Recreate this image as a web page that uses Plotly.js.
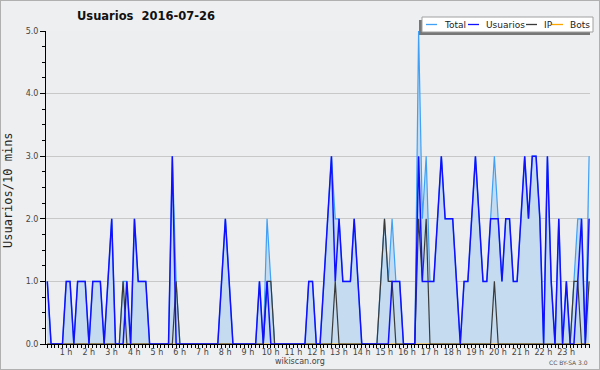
<!DOCTYPE html>
<html>
<head>
<meta charset="utf-8">
<script src="https://cdn.plot.ly/plotly-3.0.1.min.js"></script>
<style>
  html, body { margin: 0; padding: 0; background: #eeeff1; }
  #wrap { position: relative; width: 600px; height: 370px; }
  #chart { width: 600px; height: 370px; }
  #frame { position: absolute; left: 0; top: 0; width: 598px; height: 368px; border: 1px solid #b0b0b0; pointer-events: none; }
</style>
</head>
<body>
<div id="wrap"><div id="chart"></div><div id="frame"></div></div>
<script>
// 10-minute slots, 0 = 00:00 ... 143 = 23:50
const hourTickSlots = [6,12,18,24,30,36,42,48,54,60,66,72,78,84,90,96,102,108,114,120,126,132,138];
const hourTickLabels = ["1 h","2 h","3 h","4 h","5 h","6 h","7 h","8 h","9 h","10 h","11 h","12 h","13 h","14 h","15 h","16 h","17 h","18 h","19 h","20 h","21 h","22 h","23 h"];
const yTickVals = [0,1,2,3,4,5];
const yTickLabels = ["0.0","1.0","2.0","3.0","4.0","5.0"];

const usuarios = [
  1,0,0,0,0,1,1,0,1,1,1,0,
  1,1,1,0,1,2,0,0,0,1,0,2,
  1,1,1,0,0,0,0,0,0,3,0,0,
  0,0,0,0,0,0,0,0,0,0,1,2,
  1,0,0,0,0,0,0,0,1,0,1,0,
  0,0,0,0,0,0,0,0,0,1,1,0,
  0,1,2,3,1,2,1,1,1,2,1,0,
  0,0,0,0,0,0,0,1,1,1,0,0,
  0,0,3,1,1,1,1,2,3,2,2,2,
  1,0,1,1,2,3,2,1,1,2,2,2,
  1,2,2,1,1,2,3,2,3,3,2,0,
  3,1,0,2,0,1,0,0,1,2,0,2
];
const ip = [
  0,0,0,0,0,0,0,0,0,0,0,0,
  0,0,0,0,0,0,0,0,1,0,0,0,
  0,0,0,0,0,0,0,0,0,0,1,0,
  0,0,0,0,0,0,0,0,0,0,0,0,
  0,0,0,0,0,0,0,0,0,0,1,1,
  0,0,0,0,0,0,0,0,0,0,0,0,
  0,0,0,0,1,0,0,0,0,0,0,0,
  0,0,0,0,1,2,1,1,0,0,0,0,
  0,0,2,1,2,0,0,0,0,0,0,0,
  0,0,0,0,0,0,0,0,0,0,1,0,
  0,0,0,0,0,0,0,0,0,0,0,0,
  0,0,0,0,0,0,0,1,1,0,0,1
];
const total = [
  1,0,0,0,0,1,1,0,1,1,1,0,
  1,1,1,0,1,2,0,0,1,1,0,2,
  1,1,1,0,0,0,0,0,0,3,1,0,
  0,0,0,0,0,0,0,0,0,0,1,2,
  1,0,0,0,0,0,0,0,1,0,2,1,
  0,0,0,0,0,0,0,0,0,1,1,0,
  0,1,2,3,2,2,1,1,1,2,1,0,
  0,0,0,0,1,2,1,2,1,1,0,0,
  0,0,5,2,3,1,1,2,3,2,2,2,
  1,0,1,1,2,3,2,1,1,2,3,2,
  1,2,2,1,1,2,3,2,3,3,2,0,
  3,1,0,2,0,1,0,1,2,2,0,3
];
const bots = new Array(144).fill(0);
const slots = Array.from({length: 144}, (_, i) => i);

const traces = [
  {x: slots, y: total, type: 'scatter', mode: 'lines', name: 'Total',
   fill: 'tozeroy', fillcolor: '#c5dcf0', line: {color: '#3fa0f5', width: 1.2}},
  {x: slots, y: bots, type: 'scatter', mode: 'lines', name: 'Bots',
   line: {color: '#ffa500', width: 1}},
  {x: slots, y: ip, type: 'scatter', mode: 'lines', name: 'IP',
   line: {color: '#3a3a3a', width: 1.2}},
  {x: slots, y: usuarios, type: 'scatter', mode: 'lines', name: 'Usuarios',
   line: {color: '#1010ff', width: 1.5}}
];

// plot area in pixels: x 46..590, y 31..344
const L = 46, R = 590, T = 31, B = 344;
const px = v => (v - L) / (R - L);
const py = v => (B - v) / (B - T);
// slot 0 sits at x=47.3 px, slot 143 at x=589.1 px
const step = (589.1 - 47.3) / 143;
const xr0 = -(47.3 - L) / step, xr1 = 143 + (R - 589.1) / step;

const legendItems = [
  {name: 'Total', color: '#3fa0f5', x0: 426, tx: 442},
  {name: 'Usuarios', color: '#1010ff', x0: 468, tx: 484},
  {name: 'IP', color: '#3a3a3a', x0: 526, tx: 542},
  {name: 'Bots', color: '#ffa500', x0: 552, tx: 568}
];

const shapes = [
  {type: 'rect', xref: 'paper', yref: 'paper', x0: px(419), x1: px(590), y0: py(20), y1: py(35),
   fillcolor: '#777777', line: {width: 0}, layer: 'above'},
  {type: 'rect', xref: 'paper', yref: 'paper', x0: px(422), x1: px(593), y0: py(17), y1: py(32),
   fillcolor: '#ffffff', line: {color: '#a0a0a0', width: 1}, layer: 'above'}
];
const annotations = [
  {xref: 'paper', yref: 'paper', x: px(8), y: py(190), xanchor: 'center', yanchor: 'middle',
   text: 'Usuarios/10 mins', textangle: -90,
   showarrow: false, font: {family: 'DejaVu Sans Mono', size: 12, color: '#222'}},
  {xref: 'paper', yref: 'paper', x: px(300), y: py(361), xanchor: 'center', yanchor: 'middle',
   text: 'wikiscan.org', showarrow: false,
   font: {family: 'DejaVu Sans', size: 8, color: '#444'}},
  {xref: 'paper', yref: 'paper', x: px(590), y: py(362), xanchor: 'right', yanchor: 'middle',
   text: 'CC BY-SA 3.0', showarrow: false,
   font: {family: 'DejaVu Sans', size: 6, color: '#555'}}
];
legendItems.forEach(it => {
  shapes.push({type: 'line', xref: 'paper', yref: 'paper', x0: px(it.x0), x1: px(it.x0 + 11), y0: py(24.5), y1: py(24.5),
    line: {color: it.color, width: 1.3}, layer: 'above'});
  annotations.push({xref: 'paper', yref: 'paper', x: px(it.tx), y: py(24.5), xanchor: 'left', yanchor: 'middle',
    text: it.name, showarrow: false, font: {family: 'DejaVu Sans', size: 9, color: '#222'}});
});

const layout = {
  width: 600, height: 370,
  margin: {l: L, r: 600 - R, t: T, b: 370 - B},
  paper_bgcolor: '#eeeff1', plot_bgcolor: '#eceef0',
  showlegend: false,
  title: {text: 'Usuarios  2016-07-26', x: 146 / 600, xref: 'container', xanchor: 'center',
          y: 1 - 16 / 370, yref: 'container', yanchor: 'middle',
          font: {family: 'DejaVu Sans', size: 11.5, weight: 'bold', color: '#111'}},
  xaxis: {range: [xr0, xr1], tickmode: 'array', tickvals: hourTickSlots, ticktext: hourTickLabels,
          ticks: 'outside', ticklen: 3, tickcolor: '#000', tickwidth: 1, ticklabelstandoff: -3, ticklabelshift: -4,
          showline: true, linecolor: '#000', linewidth: 1, showgrid: false, zeroline: false,
          tickfont: {family: 'DejaVu Sans', size: 8, color: '#444'},
          minor: {tickmode: 'linear', tick0: 0, dtick: 1, ticks: 'outside', ticklen: 3, tickcolor: '#000', showgrid: false}},
  yaxis: {range: [0, 5], tickmode: 'array', tickvals: yTickVals, ticktext: yTickLabels,
          ticks: 'outside', ticklen: 5, tickcolor: '#000', tickwidth: 1,
          showline: true, linecolor: '#000', linewidth: 1, showgrid: true, gridcolor: '#c8c8c8', gridwidth: 1,
          zeroline: false,
          tickfont: {family: 'DejaVu Sans', size: 8, color: '#444'},
          minor: {tickmode: 'linear', tick0: 0, dtick: 0.25, ticks: 'outside', ticklen: 3, tickcolor: '#000', showgrid: false}},
  shapes: shapes,
  annotations: annotations
};

Plotly.newPlot('chart', traces, layout, {staticPlot: true, displayModeBar: false});
</script>
</body>
</html>
